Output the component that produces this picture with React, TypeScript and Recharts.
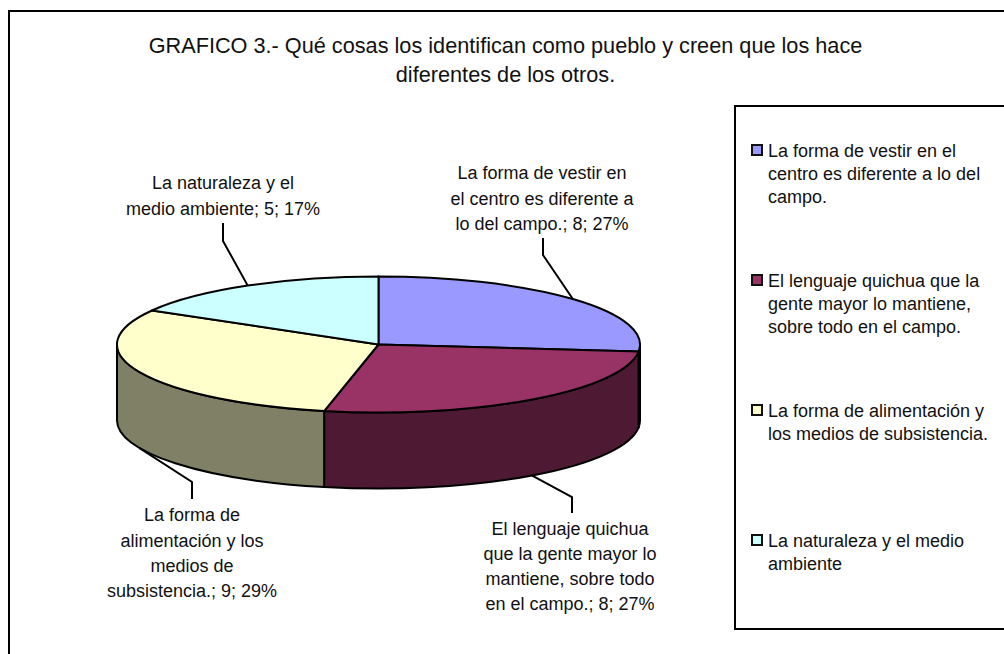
import React from "react";
import { PieChart, Pie, Legend } from "recharts";

// ---- data ----
const CATEGORIES = [
  "La forma de vestir en el centro es diferente a lo del campo.",
  "El lenguaje quichua que la gente mayor lo mantiene, sobre todo en el campo.",
  "La forma de alimentación y los medios de subsistencia.",
  "La naturaleza y el medio ambiente",
];
const VALUES = [8, 8, 9, 5];
const TOP_COLORS = ["#9999FF", "#993366", "#FFFFCC", "#CCFFFF"];
const SIDE_COLORS = ["#4D4D80", "#4D1933", "#808066", "#668080"];
const TITLE_LINES = [
  "GRAFICO 3.- Qué cosas los identifican como pueblo y creen que los hace",
  "diferentes de los otros.",
];
const LABEL_LINES = [
  ["La forma de vestir en", "el centro es diferente a", "lo del campo.; 8; 27%"],
  ["El lenguaje quichua", "que la gente mayor lo", "mantiene, sobre todo", "en el campo.; 8; 27%"],
  ["La forma de", "alimentación y los", "medios de", "subsistencia.; 9; 29%"],
  ["La naturaleza y el", "medio ambiente; 5; 17%"],
];
const LEGEND_LINES = [
  ["La forma de vestir en el", "centro es diferente a lo del", "campo."],
  ["El lenguaje quichua que la", "gente mayor lo mantiene,", "sobre todo en el campo."],
  ["La forma de alimentación y", "los medios de subsistencia."],
  ["La naturaleza y el medio", "ambiente"],
];

const tableData = CATEGORIES.map((name, i) => ({
  name,
  value: VALUES[i],
  fill: TOP_COLORS[i],
  side: SIDE_COLORS[i],
  idx: i,
}));

// ---- layout ----
const W = 1004;
const H = 654;
const CX = 378.5;
const CY = 344.5;
const RX = 261.5;
const SQUASH = 68 / 261.5;
const DEPTH = 76;
const FONT = "'Liberation Sans', Arial, sans-serif";
const LABEL_SIZE = 18;
const LABEL_LEAD = 25.2;

// leader geometry per label: elbow, leader end, text centre x, first text line centre y
const LEADERS = [
  { ex: 543, ey: 255, ty: 238, tx: 543, cx: 542, text: 173, wall: false },
  { ex: 572, ey: 497, ty: 513, tx: 572, cx: 570, text: 528.5, wall: true },
  { ex: 192, ey: 482, ty: 499, tx: 192, cx: 192, text: 515, wall: true },
  { ex: 223, ey: 241, ty: 223, tx: 223, cx: 223, text: 183, wall: false },
];

const rad = Math.PI / 180;
const pt = (cx: number, cy: number, rx: number, a: number, dy = 0) => {
  const ry = rx * SQUASH;
  return [cx + rx * Math.cos(a * rad), cy - ry * Math.sin(a * rad) + dy];
};

function Slice3D(props: any) {
  const { cx, cy, outerRadius: r, startAngle, endAngle, fill, side } = props;
  const ry = r * SQUASH;
  const hi = Math.max(startAngle, endAngle);
  const lo = Math.min(startAngle, endAngle);
  const large = hi - lo > 180 ? 1 : 0;
  const [sx, sy] = pt(cx, cy, r, hi);
  const [ex, ey] = pt(cx, cy, r, lo);
  const top = `M${cx},${cy} L${sx},${sy} A${r},${ry} 0 ${large} 1 ${ex},${ey} Z`;
  const wHi = Math.min(hi, 0);
  const wLo = Math.max(lo, -180);
  let wall: string | null = null;
  if (wHi > wLo) {
    const [ax, ay] = pt(cx, cy, r, wHi);
    const [bx, by] = pt(cx, cy, r, wLo);
    wall = `M${ax},${ay} A${r},${ry} 0 0 1 ${bx},${by} L${bx},${by + DEPTH} A${r},${ry} 0 0 0 ${ax},${ay + DEPTH} Z`;
  }
  return (
    <g>
      {wall && <path d={wall} fill={side} stroke="#000" strokeWidth={2} strokeLinejoin="round" />}
      <path d={top} fill={fill} stroke="#000" strokeWidth={2} strokeLinejoin="round" />
    </g>
  );
}

function SliceLabel(props: any) {
  const { cx, cy, outerRadius: r, midAngle, index } = props;
  const l = LEADERS[index];
  const [ax, ay] = pt(cx, cy, r, midAngle, l.wall ? DEPTH : 0);
  const lines = LABEL_LINES[index];
  return (
    <g>
      <polyline
        points={`${ax},${ay} ${l.ex},${l.ey} ${l.tx},${l.ty}`}
        fill="none"
        stroke="#000"
        strokeWidth={2}
      />
      <text textAnchor="middle" fontFamily={FONT} fontSize={LABEL_SIZE} fill="#111">
        {lines.map((t, i) => (
          <tspan key={i} x={l.cx} y={l.text + i * LABEL_LEAD} dy="0.35em">
            {t}
          </tspan>
        ))}
      </text>
    </g>
  );
}

function LegendBox(props: any) {
  const { payload } = props;
  return (
    <div
      style={{
        position: "absolute",
        left: 734,
        top: 105,
        width: 400,
        height: 525,
        border: "2px solid #000",
        boxSizing: "border-box",
        fontFamily: FONT,
        fontSize: 18,
        lineHeight: "23px",
        color: "#111",
        background: "#fff",
      }}
    >
      {(payload || []).map((p: any, i: number) => (
        <div key={i} style={{ position: "absolute", left: 15, top: 34 + i * 130 }}>
          <div
            style={{
              position: "absolute",
              left: 0,
              top: 3,
              width: 12,
              height: 12,
              boxSizing: "border-box",
              border: "2px solid #111",
              background: p.payload?.fill ?? p.color,
            }}
          />
          <div style={{ position: "absolute", left: 17, top: -1, whiteSpace: "nowrap" }}>
            {LEGEND_LINES[i].map((t, k) => (
              <div key={k}>{t}</div>
            ))}
          </div>
        </div>
      ))}
    </div>
  );
}

export default function App() {
  return (
    <div style={{ position: "absolute", left: 0, top: 0, width: W, height: H, overflow: "hidden", background: "#fff" }}>
      <div
        style={{
          position: "absolute",
          left: 8,
          top: 10,
          width: 1200,
          height: 900,
          border: "2px solid #000",
          boxSizing: "border-box",
        }}
      />
      <div
        style={{
          position: "absolute",
          left: 0,
          top: 31,
          width: 1011,
          textAlign: "center",
          fontFamily: FONT,
          fontSize: 21.7,
          lineHeight: "29px",
          color: "#111",
        }}
      >
        {TITLE_LINES.map((t, i) => (
          <div key={i}>{t}</div>
        ))}
      </div>
      <div style={{ position: "absolute", left: 0, top: 0 }}>
        <PieChart width={W} height={H} margin={{ top: 0, right: 0, bottom: 0, left: 0 }}>
          <Pie
            data={tableData}
            dataKey="value"
            nameKey="name"
            cx={CX}
            cy={CY}
            innerRadius={0}
            outerRadius={RX}
            startAngle={90}
            endAngle={-270}
            shape={Slice3D}
            label={SliceLabel}
            labelLine={false}
            isAnimationActive={false}
          />
          <Legend
            content={LegendBox}
            itemSorter={null}
            wrapperStyle={{ position: "absolute", left: 0, top: 0, width: 0, height: 0 }}
          />
        </PieChart>
      </div>
    </div>
  );
}
